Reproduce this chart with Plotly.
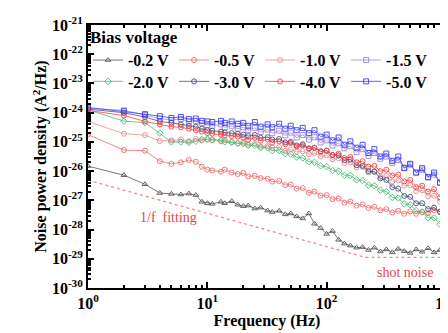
import numpy as np
import plotly.graph_objects as go

# Frequencies (Hz)
freq = [1, 2, 3, 4, 5, 6, 7, 8, 9, 10,
        11, 13, 14, 16, 18, 20, 22, 25, 28, 32,
        35, 40, 45, 50, 56, 63, 71, 79, 89, 100,
        112, 126, 141, 158, 178, 200, 224, 251, 282, 316,
        355, 398, 447, 501, 562, 631, 708, 794, 891, 1000]

# Noise power density, read as log10 exponents (A^2/Hz) from the log axis
exp_m02 = [-25.83, -26.14, -26.45, -26.75, -26.78, -26.8, -26.77, -26.82, -27.05, -27.1,
           -27.12, -27.05, -27.1, -27.03, -27.15, -27.2, -27.18, -27.28, -27.25, -27.35,
           -27.4, -27.36, -27.48, -27.45, -27.55, -27.62, -27.45, -27.8, -27.95, -28.15,
           -28.05, -28.35, -28.48, -28.55, -28.62, -28.6, -28.7, -28.62, -28.75, -28.68,
           -28.78, -28.66, -28.74, -28.8, -28.68, -28.76, -28.64, -28.78, -28.7, -28.72]
exp_m05 = [-24.75, -25.28, -25.3, -25.66, -25.75, -25.7, -25.62, -25.68, -25.85, -25.95,
           -25.98, -26.02, -25.95, -26.05, -26.1, -26.06, -26.18, -26.16, -26.24, -26.26,
           -26.36, -26.34, -26.48, -26.46, -26.6, -26.58, -26.74, -26.7, -26.84, -26.82,
           -26.96, -26.94, -27.08, -27.04, -27.18, -27.14, -27.26, -27.22, -27.34, -27.3,
           -27.42, -27.36, -27.46, -27.38, -27.46, -27.4, -27.44, -27.34, -27.38, -27.3]
exp_m10 = [-24.3, -24.72, -24.77, -24.97, -24.95, -24.92, -24.98, -24.9, -24.95, -24.92,
           -24.95, -24.98, -24.94, -25.0, -25.05, -25.02, -25.1, -25.06, -25.16, -25.14,
           -25.2, -25.18, -25.3, -25.26, -25.34, -25.32, -25.42, -25.38, -25.5, -25.46,
           -25.6, -25.56, -25.72, -25.7, -25.88, -25.86, -26.04, -26.02, -26.2, -26.16,
           -26.35, -26.32, -26.5, -26.48, -26.68, -26.66, -26.86, -26.84, -27.05, -27.0]
exp_m15 = [-23.85, -23.92, -24.08, -24.2, -24.25, -24.22, -24.3, -24.28, -24.35, -24.42,
           -24.45, -24.4, -24.5, -24.45, -24.55, -24.5, -24.6, -24.52, -24.66, -24.58,
           -24.7, -24.62, -24.78, -24.68, -24.85, -24.76, -24.92, -24.84, -25.02, -24.95,
           -25.12, -25.05, -25.22, -25.15, -25.35, -25.25, -25.48, -25.38, -25.58, -25.5,
           -25.72, -25.62, -25.88, -25.78, -26.05, -25.95, -26.22, -26.12, -26.38, -26.3]
exp_m20 = [-23.9, -24.29, -24.34, -24.7, -25.0, -25.0, -25.02, -24.98, -24.92, -24.9,
           -24.92, -24.95, -25.0, -25.02, -25.05, -25.06, -25.12, -25.12, -25.2, -25.2,
           -25.3, -25.3, -25.4, -25.42, -25.52, -25.55, -25.68, -25.7, -25.82, -25.85,
           -25.98, -26.0, -26.14, -26.15, -26.3, -26.32, -26.48, -26.5, -26.65, -26.7,
           -26.9, -26.92, -27.12, -27.15, -27.35, -27.4, -27.6, -27.6, -27.82, -27.85]
exp_m30 = [-23.88, -24.0, -24.15, -24.3, -24.35, -24.4, -24.45, -24.48, -24.55, -24.6,
           -24.62, -24.65, -24.68, -24.7, -24.72, -24.75, -24.8, -24.76, -24.86, -24.84,
           -24.92, -24.9, -25.02, -25.0, -25.12, -25.08, -25.22, -25.2, -25.32, -25.3,
           -25.45, -25.46, -25.62, -25.6, -25.8, -25.82, -26.0, -26.02, -26.25, -26.3,
           -26.55, -26.6, -26.85, -26.88, -27.1, -27.1, -27.3, -27.25, -27.4, -27.35]
exp_m40 = [-23.92, -24.1, -24.3, -24.4, -24.48, -24.5, -24.55, -24.6, -24.65, -24.7,
           -24.72, -24.75, -24.78, -24.8, -24.82, -24.85, -24.92, -24.86, -24.96, -24.92,
           -25.02, -24.98, -25.08, -25.04, -25.16, -25.12, -25.24, -25.2, -25.34, -25.3,
           -25.45, -25.4, -25.55, -25.52, -25.7, -25.66, -25.85, -25.82, -26.0, -25.95,
           -26.15, -26.12, -26.35, -26.3, -26.55, -26.5, -26.7, -26.62, -26.9, -26.82]
exp_m50 = [-23.82, -23.95, -24.05, -24.12, -24.18, -24.15, -24.22, -24.2, -24.28, -24.3,
           -24.32, -24.28, -24.35, -24.3, -24.38, -24.35, -24.45, -24.32, -24.48, -24.4,
           -24.5, -24.38, -24.55, -24.45, -24.6, -24.52, -24.7, -24.6, -24.82, -24.75,
           -24.95, -24.85, -25.1, -24.98, -25.2, -25.1, -25.38, -25.25, -25.5, -25.4,
           -25.65, -25.5, -25.9, -25.75, -26.05, -25.9, -26.2, -26.05, -26.4, -26.25]

# 1/f fitting and shot-noise guide line
fit_freq = [1, 210, 1000]
fit_exp = [-26.31, -28.95, -28.95]

# Tick labels
x_tick_exp = [0, 1, 2, 3]
x_tick_text = ["10<sup>0</sup>", "10<sup>1</sup>", "10<sup>2</sup>", "10<sup>3</sup>"]
y_tick_exp = [-30, -29, -28, -27, -26, -25, -24, -23, -22, -21]
y_tick_text = ["10<sup>-30</sup>", "10<sup>-29</sup>", "10<sup>-28</sup>", "10<sup>-27</sup>",
               "10<sup>-26</sup>", "10<sup>-25</sup>", "10<sup>-24</sup>", "10<sup>-23</sup>",
               "10<sup>-22</sup>", "10<sup>-21</sup>"]

labels = ["-0.2 V", "-0.5 V", "-1.0 V", "-1.5 V", "-2.0 V", "-3.0 V", "-4.0 V", "-5.0 V"]
series = [exp_m02, exp_m05, exp_m10, exp_m15, exp_m20, exp_m30, exp_m40, exp_m50]
colors = ["#555555", "#f06a6a", "#e58f8f", "#9a88d8", "#45bb72", "#474d80", "#ff3d3d", "#3d3dff"]
symbols = ["triangle-up-open", "circle-open", "circle-open", "square-open",
           "diamond-open", "circle-open", "circle-open", "square-open"]
legend_ids = ["legend", "legend", "legend", "legend", "legend2", "legend2", "legend2", "legend2"]

FONT = "Liberation Serif"

fig = go.Figure()
fig.add_trace(go.Scatter(x=fit_freq, y=10.0 ** np.array(fit_exp), mode="lines",
                         line=dict(color="#f08a8a", width=1.3, dash="dot"),
                         showlegend=False, hoverinfo="skip"))
for lab, s, c, sym, lg in zip(labels, series, colors, symbols, legend_ids):
    fig.add_trace(go.Scatter(
        x=freq, y=10.0 ** np.array(s), mode="lines+markers", name=lab, legend=lg,
        line=dict(color=c, width=0.8),
        marker=dict(symbol=sym, size=5, color=c, line=dict(width=0.9, color=c)),
    ))

fig.add_annotation(x=np.log10(4.7), y=np.log10(2.5e-28), text="1/f  fitting", showarrow=False,
                   font=dict(family=FONT, size=14, color="#e04848"), xref="x", yref="y")
fig.add_annotation(x=np.log10(454), y=np.log10(3.5e-30), text="shot noise", showarrow=False,
                   font=dict(family=FONT, size=14, color="#e04848"), xref="x", yref="y")

axis_common = dict(
    type="log", showline=True, linewidth=2, linecolor="black", mirror="allticks",
    ticks="inside", ticklen=6, tickwidth=2, tickcolor="black",
    showgrid=False, zeroline=False, automargin=False, ticklabeloverflow="allow",
    tickfont=dict(family=FONT, size=16, color="black", weight="bold"),
    minor=dict(ticks="inside", ticklen=3, tickwidth=1.5, tickcolor="black", dtick="D1", showgrid=False),
)
fig.update_xaxes(**axis_common, range=[0, 3], tickmode="array",
                 tickvals=[10.0 ** e for e in x_tick_exp], ticktext=x_tick_text,
                 title=dict(text="Frequency (Hz)", font=dict(family=FONT, size=16, color="black", weight="bold"),
                            standoff=4))
fig.update_yaxes(**axis_common, range=[-30, -21], tickmode="array",
                 tickvals=[10.0 ** e for e in y_tick_exp], ticktext=y_tick_text,
                 title=dict(text="Noise power density (A<sup>2</sup>/Hz)",
                            font=dict(family=FONT, size=16, color="black", weight="bold"), standoff=1))

legend_common = dict(
    orientation="h", xanchor="left", yanchor="top",
    bgcolor="rgba(0,0,0,0)", borderwidth=0,
    font=dict(family=FONT, size=16, color="black", weight="bold"),
)
fig.update_layout(
    width=448, height=333,
    margin=dict(l=80, r=10, t=17, b=53, autoexpand=False),
    paper_bgcolor="white", plot_bgcolor="white",
    legend=dict(**legend_common, x=0.0, y=1.015,
                title=dict(text="Bias voltage", side="top",
                           font=dict(family=FONT, size=17, color="black", weight="bold"))),
    legend2=dict(**legend_common, x=0.0, y=0.85),
)

fig.write_html("out.html")
